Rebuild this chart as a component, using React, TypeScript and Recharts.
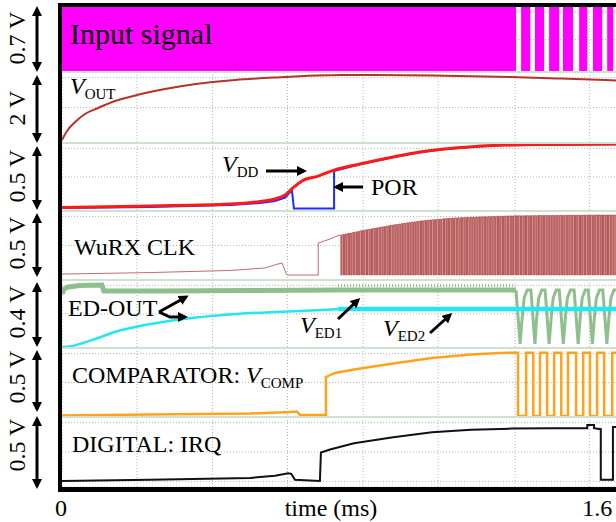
import React from "react";
import { ComposedChart, Line, Area, XAxis, YAxis, CartesianGrid, Label } from "recharts";

const FONT = '"Liberation Serif", "Times New Roman", serif';
const T_MAX = 1.647; // ms at the right edge of the screen

// vertical scope grid (ms) and axis ticks
const gridT = [0.222, 0.446, 0.668, 0.892, 1.114, 1.342, 1.562];
const axisTicks = [0, 1.6];
const rowFrac = [0.08, 0.22, 0.36, 0.5, 0.64, 0.78, 0.92];

// full scale of each trace (V), top to bottom
const spanLabels = ["0.7 V", "2 V", "0.5 V", "0.5 V", "0.4 V", "0.5 V", "0.5 V"];
const spans = [0.7, 2, 0.5, 0.5, 0.4, 0.5, 0.5];

// input signal: level after each time
const inT = [0, 1.345, 1.36, 1.387, 1.401, 1.428, 1.443, 1.473, 1.484, 1.514, 1.532, 1.556, 1.573, 1.6, 1.615, 1.633, 1.647];
const inV = [0.7, 0, 0.7, 0, 0.7, 0, 0.7, 0, 0.7, 0, 0.7, 0, 0.7, 0, 0.7, 0, 0];

// V_OUT
const voutT = [0, 0.015, 0.039, 0.068, 0.107, 0.157, 0.222, 0.305, 0.397, 0.513, 0.631, 0.83, 1.096, 1.33, 1.476, 1.647];
const voutV = [0.085, 0.338, 0.592, 0.817, 0.986, 1.183, 1.352, 1.521, 1.662, 1.775, 1.845, 1.915, 1.901, 1.859, 1.817, 1.761];

// V_DD and POR
const vddT = [0, 0.261, 0.498, 0.587, 0.631, 0.661, 0.684, 0.711, 0.759, 0.806, 0.883, 0.981, 1.061, 1.132, 1.224, 1.307, 1.446, 1.647];
const vddV = [0.026, 0.037, 0.051, 0.07, 0.088, 0.118, 0.169, 0.221, 0.257, 0.301, 0.346, 0.397, 0.434, 0.456, 0.474, 0.485, 0.489, 0.493];
const porT = [0, 0.261, 0.498, 0.587, 0.631, 0.661, 0.681, 0.687, 0.806, 0.806, 0.883, 0.981, 1.061, 1.132, 1.224, 1.307, 1.446, 1.647];
const porV = [0.022, 0.029, 0.044, 0.059, 0.074, 0.099, 0.154, 0.018, 0.018, 0.294, 0.344, 0.395, 0.432, 0.454, 0.472, 0.483, 0.487, 0.491];

// WuRX CLK before the clock starts
const wuT = [0, 0.261, 0.498, 0.601, 0.64, 0.652, 0.664, 0.667, 0.759, 0.759, 0.794, 0.818];
const wuV = [0.043, 0.054, 0.069, 0.087, 0.116, 0.123, 0.047, 0.036, 0.036, 0.268, 0.297, 0.322];
// clock pulses: time of each falling edge and the high level there
const clkT = [
  0.826, 0.834, 0.841, 0.849, 0.856, 0.864, 0.872, 0.879, 0.887, 0.894, 0.902, 0.91, 0.917, 0.925, 0.932, 0.94, 0.948, 0.955,
  0.963, 0.97, 0.978, 0.986, 0.993, 1.001, 1.008, 1.016, 1.024, 1.031, 1.039, 1.046, 1.054, 1.062, 1.069, 1.077, 1.084, 1.092,
  1.1, 1.107, 1.115, 1.122, 1.13, 1.138, 1.145, 1.153, 1.16, 1.168, 1.176, 1.183, 1.191, 1.198, 1.206, 1.214, 1.221, 1.229,
  1.236, 1.244, 1.252, 1.259, 1.267, 1.274, 1.282, 1.29, 1.297, 1.305, 1.312, 1.32, 1.328, 1.335, 1.343, 1.35, 1.358, 1.366,
  1.373, 1.381, 1.388, 1.396, 1.404, 1.411, 1.419, 1.426, 1.434, 1.442, 1.449, 1.457, 1.464, 1.472, 1.48, 1.487, 1.495, 1.502,
  1.51, 1.518, 1.525, 1.533, 1.54, 1.548, 1.556, 1.563, 1.571, 1.578, 1.586, 1.594, 1.601, 1.609, 1.616, 1.624, 1.632, 1.639,
];
const clkHi = [
  0.326, 0.33, 0.334, 0.338, 0.341, 0.345, 0.349, 0.353, 0.357, 0.36, 0.364, 0.367, 0.371, 0.374, 0.377, 0.381, 0.384, 0.387,
  0.391, 0.394, 0.398, 0.401, 0.403, 0.406, 0.409, 0.412, 0.414, 0.417, 0.42, 0.422, 0.425, 0.428, 0.43, 0.431, 0.433, 0.435,
  0.436, 0.438, 0.44, 0.441, 0.443, 0.445, 0.446, 0.448, 0.449, 0.45, 0.451, 0.451, 0.452, 0.453, 0.454, 0.455, 0.455, 0.456,
  0.457, 0.457, 0.458, 0.459, 0.459, 0.46, 0.461, 0.461, 0.462, 0.462, 0.463, 0.464, 0.464, 0.464, 0.465, 0.465, 0.465, 0.465,
  0.466, 0.466, 0.466, 0.466, 0.466, 0.467, 0.467, 0.467, 0.467, 0.467, 0.467, 0.468, 0.468, 0.468, 0.468, 0.468, 0.469, 0.469,
  0.469, 0.469, 0.469, 0.469, 0.47, 0.47, 0.47, 0.47, 0.47, 0.47, 0.471, 0.471, 0.471, 0.471, 0.471, 0.471, 0.471, 0.471,
];
const clkLow = 0.036;
const clkDip = 0.003;

// ED-OUT: V_ED1 (green) and V_ED2 (cyan)
const ed1T = [0, 0.006, 0.018, 0.053, 0.118, 0.124, 0.142, 0.29, 0.557, 0.818, 1.345];
const ed1V = [0.318, 0.347, 0.359, 0.368, 0.371, 0.335, 0.335, 0.335, 0.338, 0.341, 0.341];
const ed1RippleT = [0.818, 1.342];
const ed1RippleV = [0.368, 0.368];
const ed1DipT = [1.345, 1.357, 1.363, 1.369, 1.378, 1.389, 1.401, 1.406, 1.412, 1.421, 1.431, 1.443, 1.449, 1.455, 1.464,
  1.473, 1.485, 1.491, 1.497, 1.506, 1.517, 1.529, 1.535, 1.541, 1.55, 1.559, 1.571, 1.577, 1.583, 1.592,
  1.602, 1.614, 1.62, 1.626, 1.635, 1.647];
const ed1DipV = [0.341, 0.024, 0.176, 0.294, 0.341, 0.341, 0.024, 0.176, 0.294, 0.341, 0.341, 0.024, 0.176, 0.294, 0.341,
  0.341, 0.024, 0.176, 0.294, 0.341, 0.341, 0.024, 0.176, 0.294, 0.341, 0.341, 0.024, 0.176, 0.294, 0.341,
  0.341, 0.024, 0.176, 0.294, 0.341, 0.341];
const ed2T = [0, 0.024, 0.053, 0.098, 0.166, 0.231, 0.281, 0.397, 0.516, 0.631, 0.705, 0.818];
const ed2V = [0.006, 0.009, 0.024, 0.053, 0.1, 0.129, 0.147, 0.179, 0.2, 0.212, 0.218, 0.229];
const ed2NoisyT = [0.818, 1.647];
const ed2NoisyV = [0.229, 0.229];

// COMPARATOR: V_COMP
const compT = [0, 0.261, 0.557, 0.676, 0.696, 0.705, 0.782, 0.782, 0.809, 0.865, 0.981, 1.096, 1.212, 1.298, 1.351];
const compV = [0.011, 0.018, 0.025, 0.036, 0.04, 0.014, 0.014, 0.29, 0.319, 0.344, 0.388, 0.428, 0.453, 0.464, 0.466];
const compEdges = [1.351, 1.375, 1.396, 1.416, 1.437, 1.458, 1.479, 1.499, 1.523, 1.544, 1.564, 1.585, 1.606, 1.63];
const compHi = 0.466;
const compLo = 0.007;

// DIGITAL: IRQ
const irqT = [0, 0.261, 0.557, 0.631, 0.67, 0.679, 0.69, 0.764, 0.767, 0.794, 0.865, 0.981, 1.096, 1.212, 1.33, 1.446,
  1.556, 1.556, 1.576, 1.576, 1.596, 1.596, 1.632, 1.632, 1.647];
const irqV = [0.043, 0.051, 0.065, 0.08, 0.098, 0.094, 0.051, 0.043, 0.246, 0.268, 0.312, 0.355, 0.391, 0.409, 0.417, 0.42,
  0.42, 0.442, 0.442, 0.42, 0.413, 0.051, 0.051, 0.428, 0.428];

const pts = (ts: number[], vs: number[]) => ts.map((t, i) => ({ t, v: vs[i] }));

const inputData = pts(inT, inV);
const voutData = pts(voutT, voutV);
const vddData = pts(vddT, vddV);
const porData = pts(porT, porV);
const clkEnv = pts(clkT, clkHi);
const wuData = [
  ...pts(wuT, wuV),
  ...clkT.flatMap((t, i) => [
    { t, v: clkHi[i] },
    { t, v: clkLow },
    { t: t + clkDip, v: clkLow },
    { t: t + clkDip, v: clkHi[i] },
  ]),
];
const ed1Data = pts(ed1T, ed1V);
const ed1RippleData = pts(ed1RippleT, ed1RippleV);
const ed1DipData = pts(ed1DipT, ed1DipV);
const ed2Data = pts(ed2T, ed2V);
const ed2NoisyData = pts(ed2NoisyT, ed2NoisyV);
const compData = [
  ...pts(compT, compV),
  ...compEdges.flatMap((t, i) => {
    const from = i % 2 === 0 ? compHi : compLo;
    const to = i % 2 === 0 ? compLo : compHi;
    return [{ t, v: from }, { t, v: to }];
  }),
  { t: T_MAX, v: compHi },
];
const irqData = pts(irqT, irqV);

// panel layout (px)
const panelTop = [7, 72, 143, 211, 280, 348, 417];
const panelH = [65, 71, 68, 69, 68, 69, 70];
const arrowSpan = [[6, 72], [75, 143], [146, 210], [213, 277], [282, 347], [350, 412], [416, 489]];
const spanLabelY = [38, 108, 176, 243, 312, 377, 445];

function TimeTick({ x, y, payload }: any) {
  const shift = payload.value > 0 ? -5 : -1;
  return (
    <text x={x + shift} y={y} dy="0.71em" textAnchor="middle" fontSize={24} fill="#000" fontFamily={FONT}>
      {payload.value}
    </text>
  );
}

function Panel({ i, axis = false, children }: { i: number; axis?: boolean; children: React.ReactNode }) {
  const span = spans[i];
  return (
    <div style={{ position: "absolute", left: 0, top: panelTop[i] }}>
      <ComposedChart width={618} height={panelH[i] + (axis ? 35 : 0)} margin={{ top: 0, right: 0, bottom: 0, left: 62 }}>
        <CartesianGrid stroke="#b5b5b5" strokeDasharray="1 2" />
        {axis && (
          <XAxis
            xAxisId="lab"
            type="number"
            dataKey="t"
            domain={[0, T_MAX]}
            allowDataOverflow
            ticks={axisTicks}
            interval={0}
            axisLine={false}
            tickLine={false}
            tickSize={0}
            tickMargin={12}
            height={35}
            tick={<TimeTick />}
          >
            <Label value="time (ms)" position="center" dx={-9} dy={3} fontSize={24} fill="#000" fontFamily={FONT} />
          </XAxis>
        )}
        <XAxis xAxisId={0} type="number" dataKey="t" domain={[0, T_MAX]} ticks={gridT} height={0} hide allowDataOverflow />
        <YAxis type="number" domain={[0, span]} ticks={rowFrac.map((f) => f * span)} width={0} hide allowDataOverflow />
        {children}
      </ComposedChart>
    </div>
  );
}

function Overlay() {
  const arrow = { stroke: "#000", strokeWidth: 3, fill: "none", markerEnd: "url(#head)" };
  const sub = { fontSize: 15, dy: 5 };
  return (
    <svg width={616} height={522} style={{ position: "absolute", left: 0, top: 0 }} fontFamily={FONT} fontSize={24}>
      <defs>
        <marker id="head" viewBox="0 0 10 10" refX="7" refY="5" markerWidth="10" markerHeight="10" markerUnits="userSpaceOnUse" orient="auto-start-reverse">
          <path d="M0,0 L10,5 L0,10 z" fill="#000" />
        </marker>
      </defs>
      {spanLabels.map((s, i) => (
        <g key={i}>
          <text x={17} y={spanLabelY[i]} transform={`rotate(-90 17 ${spanLabelY[i]})`} textAnchor="middle" dominantBaseline="central">
            {s}
          </text>
          <line x1={37} y1={arrowSpan[i][0] + 3} x2={37} y2={arrowSpan[i][1] - 3} stroke="#000" strokeWidth={3} markerStart="url(#head)" markerEnd="url(#head)" />
        </g>
      ))}
      <text x={70} y={44} fontSize={30}>Input signal</text>
      <text x={70} y={94}><tspan fontStyle="italic">V</tspan><tspan {...sub}>OUT</tspan></text>
      <text x={222} y={172}><tspan fontStyle="italic">V</tspan><tspan {...sub}>DD</tspan></text>
      <line x1={266} y1={171} x2={304} y2={171} {...arrow} />
      <text x={371} y={195}>POR</text>
      <line x1={363} y1={187} x2={336} y2={187} {...arrow} />
      <text x={74} y={255}>WuRX CLK</text>
      <text x={68} y={316}>ED-OUT</text>
      <line x1={159} y1={312} x2={186} y2={297} {...arrow} />
      <polyline points="159,312 170,317 185,317" {...arrow} />
      <text x={300} y={333}><tspan fontStyle="italic">V</tspan><tspan {...sub}>ED1</tspan></text>
      <line x1={338} y1={319} x2={358} y2={300} {...arrow} />
      <text x={383} y={336}><tspan fontStyle="italic">V</tspan><tspan {...sub}>ED2</tspan></text>
      <line x1={430} y1={333} x2={450} y2={315} {...arrow} />
      <text x={72} y={383}>COMPARATOR: <tspan fontStyle="italic">V</tspan><tspan {...sub}>COMP</tspan></text>
      <text x={72} y={452}>DIGITAL: IRQ</text>
    </svg>
  );
}

export default function App() {
  return (
    <div style={{ position: "absolute", left: 0, top: 0, width: 616, height: 522, overflow: "hidden", background: "#fff", fontFamily: FONT }}>
      <Panel i={0}>
        <Area data={inputData} dataKey="v" type="stepAfter" fill="#ff00ff" fillOpacity={1} stroke="none" isAnimationActive={false} />
      </Panel>
      <Panel i={1}>
        <Line data={voutData} dataKey="v" type="monotone" stroke="#b3322c" strokeWidth={2} dot={false} isAnimationActive={false} />
      </Panel>
      <Panel i={2}>
        <Line data={porData} dataKey="v" type="linear" stroke="#1f2cff" strokeWidth={2} dot={false} isAnimationActive={false} />
        <Line data={vddData} dataKey="v" type="monotone" stroke="#ff1a1a" strokeWidth={3} dot={false} isAnimationActive={false} />
      </Panel>
      <Panel i={3}>
        <Area data={clkEnv} dataKey="v" type="linear" baseValue={clkLow} fill="#dcaaaa" fillOpacity={1} stroke="none" isAnimationActive={false} />
        <Line data={wuData} dataKey="v" type="linear" stroke="#a83c3c" strokeWidth={0.75} dot={false} isAnimationActive={false} />
      </Panel>
      <Panel i={4}>
        <Line data={ed1RippleData} dataKey="v" type="linear" stroke="#8fbf8c" strokeWidth={3} strokeDasharray="1 2" dot={false} isAnimationActive={false} />
        <Line data={ed1Data} dataKey="v" type="linear" stroke="#8fbf8c" strokeWidth={5} dot={false} isAnimationActive={false} />
        <Line data={ed1DipData} dataKey="v" type="linear" stroke="#8fbf8c" strokeWidth={3} dot={false} isAnimationActive={false} />
        <Line data={ed2Data} dataKey="v" type="monotone" stroke="#22e6f2" strokeWidth={2.5} dot={false} isAnimationActive={false} />
        <Line data={ed2NoisyData} dataKey="v" type="linear" stroke="#22e6f2" strokeWidth={4.5} dot={false} isAnimationActive={false} />
      </Panel>
      <Panel i={5}>
        <Line data={compData} dataKey="v" type="linear" stroke="#ffa31a" strokeWidth={2.5} dot={false} isAnimationActive={false} />
      </Panel>
      <Panel i={6} axis>
        <Line data={irqData} dataKey="v" type="linear" stroke="#111" strokeWidth={2} dot={false} isAnimationActive={false} />
      </Panel>
      {panelTop.slice(1).map((y, i) => (
        <div key={i} style={{ position: "absolute", left: 62, top: y - 1, width: 556, height: 2, background: "#cfe2cf" }} />
      ))}
      <div
        style={{
          position: "absolute",
          left: 58,
          top: 3,
          width: 600,
          height: 489,
          boxSizing: "border-box",
          borderLeft: "4px solid #000",
          borderTop: "4px solid #000",
          borderBottom: "5px solid #000",
        }}
      />
      <Overlay />
    </div>
  );
}
